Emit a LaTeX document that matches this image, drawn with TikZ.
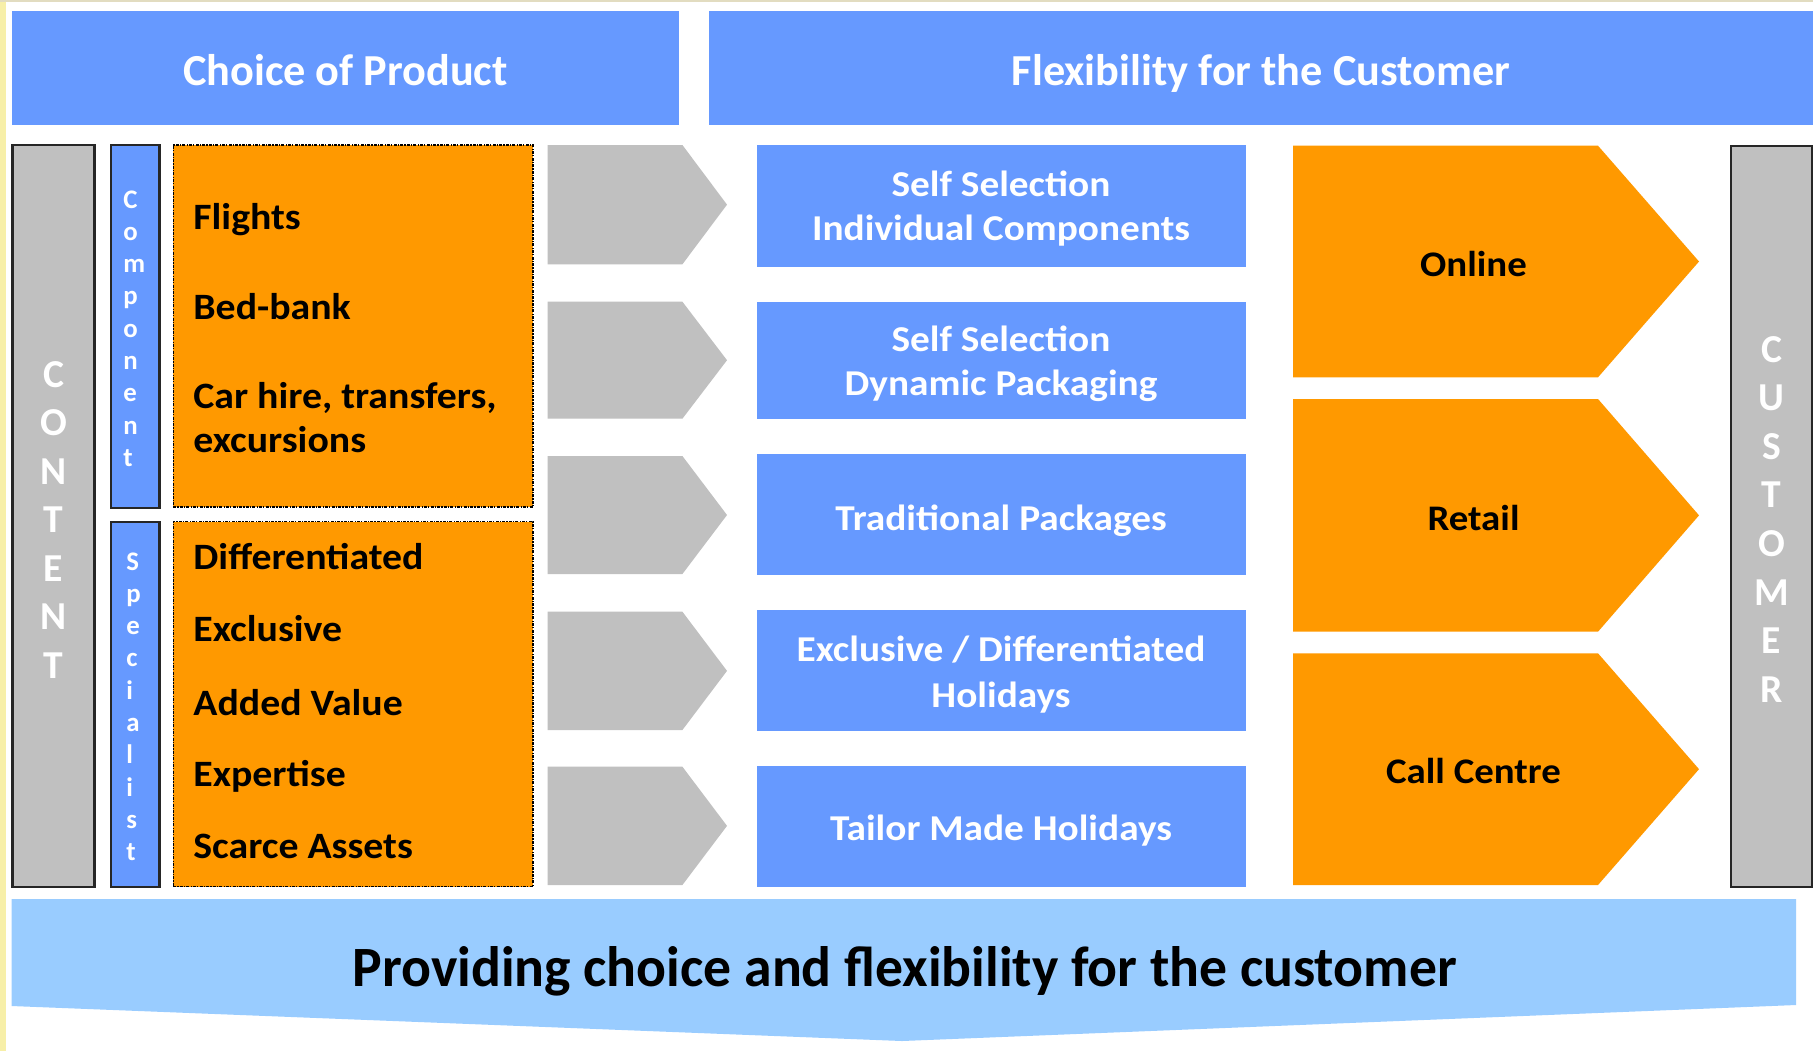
\documentclass[tikz,border=0pt]{standalone}
\usepackage{fontspec}
\usepackage{graphicx}
\setmainfont{Carlito}
% slightly widened cuts of the same family for the list and box labels
\newfontfamily\listfont[FakeStretch=1.07]{Carlito}
\newfontfamily\boxfont[FakeStretch=1.08]{Carlito}
\usetikzlibrary{fit}

\definecolor{hdrblue}{HTML}{6699FF}
\definecolor{skyblue}{HTML}{99CCFF}
\definecolor{bargray}{HTML}{C0C0C0}
\definecolor{tangerine}{HTML}{FF9900}
\definecolor{edgeyellow}{HTML}{F7EFA8}
\definecolor{edgebeige}{HTML}{E2DCC0}

\begin{document}
\begin{tikzpicture}[x=0.5pt,y=-0.5pt,
  area/.style={inner sep=0pt, outer sep=0pt},
  bluebox/.style={area, fill=hdrblue},
  barbox/.style={area, fill=bargray, draw=black!85, line width=1.2pt},
  tabbox/.style={area, fill=hdrblue, draw=black!85, line width=1.2pt},
  itembox/.style={area, fill=tangerine, draw=black, line width=0.6pt,
                  dash pattern=on 1.5pt off 0.6pt on 0.6pt off 0.6pt},
  hdrtext/.style={anchor=base, inner sep=0pt, text=white,
                  font=\bfseries\fontsize{22.15}{26}\selectfont},
  itemtext/.style={anchor=base west, inner sep=0pt,
                   font=\listfont\bfseries\fontsize{18.6}{22}\selectfont},
  optext/.style={anchor=base, inner sep=0pt, text=white,
                 font=\boxfont\bfseries\fontsize{18.2}{22}\selectfont},
  chantext/.style={anchor=base, inner sep=0pt,
                   font=\boxfont\bfseries\fontsize{18}{22}\selectfont},
  bigletter/.style={anchor=base, inner sep=0pt, text=white,
                    font=\bfseries\fontsize{19.8}{24}\selectfont},
  smallletter/.style={anchor=base west, inner sep=0pt, text=white,
                      font=\bfseries\fontsize{13.4}{16}\selectfont}
]
\useasboundingbox (0,0) rectangle (1813,1051);
\fill[white] (0,0) rectangle (1813,1051);

% page edge tint
\fill[edgeyellow] (0,0) rectangle (6,1051);
\fill[edgebeige] (0,0) rectangle (1813,2);

% column headers
\node[bluebox, fit={(12,11) (679,125)}] (hdrL) {};
\node[bluebox, fit={(709,11) (1813,125)}] (hdrR) {};
\node[hdrtext] (hdrLtext) at (345.5,85) {Choice of Product};
\node[hdrtext] (hdrRtext) at (1261,85) {Flexibility for the Customer};

% side bars
\node[barbox, fit={(12.5,145) (94.6,887)}] (content) {};
\node[barbox, fit={(1731,145.7) (1812,886.7)}] (customer) {};
\node[tabbox, fit={(110.7,145) (159.6,507.7)}] (component) {};
\node[tabbox, fit={(110.7,521.7) (159.6,886.7)}] (specialist) {};

\foreach \l [count=\i from 0] in {C,O,N,T,E,N,T}
  \node[bigletter] (content-\i) at (53.5,{387+48.5*\i}) {\l};
\foreach \l [count=\i from 0] in {C,U,S,T,O,M,E,R}
  \node[bigletter] (customer-\i) at (1771.5,{362+48.6*\i}) {\l};
\foreach \l [count=\i from 0] in {C,o,m,p,o,n,e,n,t}
  \node[smallletter] (component-\i) at (123,{208+32.3*\i}) {\l};
\foreach \l [count=\i from 0] in {S,p,e,c,i,a,l,i,s,t}
  \node[smallletter] (specialist-\i) at (126,{570+32.3*\i}) {\l};

% product lists
\node[itembox, fit={(173.2,145) (532.9,507)}] (components) {};
\node[itembox, fit={(173.2,521.7) (532.9,886.7)}] (specials) {};

\node[itemtext] (flights) at (193,229) {Flights};
\node[itemtext] (bedbank) at (193,319) {Bed-bank};
\node[itemtext] (carhire) at (193,408) {Car hire, transfers,};
\node[itemtext] (excursions) at (193,452.7) {excursions};
\node[itemtext] (differentiated) at (193,569) {Differentiated};
\node[itemtext] (exclusive) at (193,641.7) {Exclusive};
\node[itemtext] (addedvalue) at (193,715) {Added Value};
\node[itemtext] (expertise) at (193,786.7) {Expertise};
\node[itemtext] (scarce) at (193,858.3) {Scarce Assets};

% grey chevrons
\foreach \t/\b in {145/264.3, 301.7/418.7, 456/574, 611.7/730, 766.7/885}
  \fill[bargray] (547.6,\t) -- (682.4,\t) -- (727,{(\t+\b)/2})
                 -- (682.4,\b) -- (547.6,\b) -- cycle;

% holiday options
\node[bluebox, fit={(756.5,145) (1245.6,266.7)}] (opt1) {};
\node[bluebox, fit={(756.5,301.7) (1245.6,419.3)}] (opt2) {};
\node[bluebox, fit={(756.5,454) (1245.6,575)}] (opt3) {};
\node[bluebox, fit={(756.5,610) (1245.6,730.7)}] (opt4) {};
\node[bluebox, fit={(756.5,766) (1245.6,886.7)}] (opt5) {};

\node[optext] (opt1a) at (1001,196.7) {Self Selection};
\node[optext] (opt1b) at (1001,240) {Individual Components};
\node[optext] (opt2a) at (1001,351.7) {Self Selection};
\node[optext] (opt2b) at (1001,395) {Dynamic Packaging};
\node[optext] (opt3a) at (1001,530.5) {Traditional Packages};
\node[optext] (opt4a) at (1001,661.7) {Exclusive / Differentiated};
\node[optext] (opt4b) at (1001,707.3) {Holidays};
\node[optext] (opt5a) at (1001,840) {Tailor Made Holidays};

% sales channels
\foreach \t/\b in {145.7/377.3, 399/631.7, 653.3/885}
  \fill[tangerine] (1293,\t) -- (1598,\t) -- (1699,{(\t+\b)/2})
                   -- (1598,\b) -- (1293,\b) -- cycle;
\node[chantext] (online) at (1473.5,276) {Online};
\node[chantext] (retail) at (1473.5,530.7) {Retail};
\node[chantext] (callcentre) at (1473.5,783.3) {Call Centre};

% summary banner
\fill[skyblue] (11.6,899) -- (1796,899) -- (1796,1005) -- (902,1041)
               -- (11.6,1006) -- cycle;
\node[anchor=base, inner sep=0pt] (motto) at (904.6,986)
  {\resizebox{552pt}{\height}{\bfseries\fontsize{28.5}{34}\selectfont
   Providing choice and flexibility for the customer}};
\end{tikzpicture}
\end{document}
